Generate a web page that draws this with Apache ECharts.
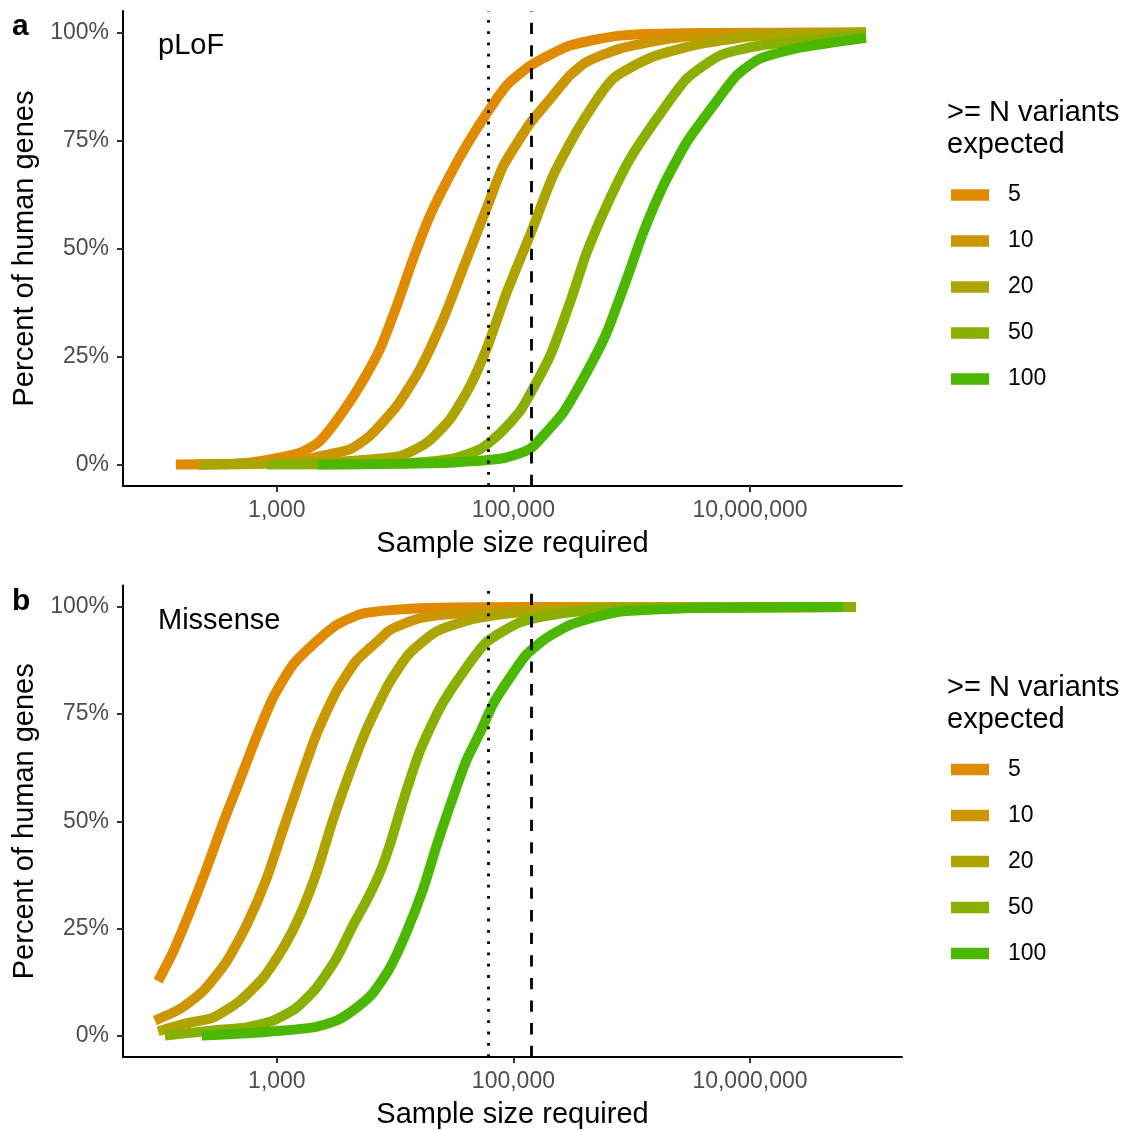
<!DOCTYPE html>
<html>
<head>
<meta charset="utf-8">
<script src="https://cdn.jsdelivr.net/npm/echarts@6/dist/echarts.min.js"></script>
<style>
  html, body { margin: 0; padding: 0; background: #fff; }
  #chart { width: 1124px; height: 1130px; }
</style>
</head>
<body>
<div id="chart"></div>
<script>
// categories / colours
const levels = ['5', '10', '20', '50', '100'];
const levelColors = ['#E08A00', '#CC9600', '#ADA400', '#89AF00', '#4BB700'];

// tick labels
const xTicks = [1000, 100000, 10000000];
const yTicks = [0, 25, 50, 75, 100];

// reference sample sizes (vertical lines)
const exacSize = 60706;
const gnomadSize = 141456;

// panel a: pLoF  (sample size, percent of genes)
const plof5Size = [140, 592, 1570, 2310, 3410, 5030, 7430, 10300, 14200, 19700, 29000, 40200, 60500, 87700, 140000, 301000, 796000, 3780000, 95700000];
const plof5Pct = [0, 0.4, 2.7, 5.4, 11.2, 18.2, 26.7, 36.7, 47.6, 57.6, 66.9, 73.9, 81.6, 87.8, 92.4, 97, 99.3, 99.9, 100];
const plof10Size = [215, 592, 1570, 2310, 4140, 6110, 10300, 16200, 25500, 40200, 60500, 82000, 140000, 204000, 301000, 416000, 796000, 2100000, 5570000, 95700000];
const plof10Pct = [0, 0.1, 0.8, 1.9, 3.5, 6.6, 13.5, 22, 33.6, 47.5, 59.9, 69.1, 79.2, 84.6, 90.1, 93.2, 96.3, 98.6, 99.7, 100];
const plof20Size = [215, 1570, 4140, 10960, 18450, 29000, 42900, 60500, 87700, 140000, 216000, 365000, 694000, 1510000, 4010000, 12200000, 95700000];
const plof20Pct = [0, 0.3, 0.8, 1.9, 5.0, 10.4, 18.1, 27.4, 39.8, 53.5, 66.8, 78.4, 89.3, 94.4, 97.5, 99.3, 100];
const plof50Size = [823, 10960, 29000, 52100, 76900, 113500, 140600, 204000, 301000, 416000, 614000, 966000, 1625000, 2917000, 5570000, 12200000, 95700000];
const plof50Pct = [0, 0.2, 1.2, 3.5, 7.2, 12.3, 16.6, 25.1, 37.5, 49, 59.9, 70.7, 80, 89.3, 94.7, 97, 99.6];
const plof100Size = [2220, 29000, 76900, 113500, 140000, 167500, 263700, 416000, 614000, 906000, 1253000, 1849000, 2917000, 4898000, 7727000, 12200000, 26500000, 95700000];
const plof100Pct = [0, 0.4, 1.3, 2.6, 3.7, 5.8, 12, 21.3, 30.5, 42.9, 53.7, 64.5, 74.6, 83.1, 90.1, 94, 96.5, 98.8];

// panel b: Missense
const mis5Size = [99, 133, 184, 254, 352, 486, 673, 931, 1374, 2168, 3199, 5370, 16200, 138000, 70100000];
const mis5Pct = [12.7, 19.6, 28.9, 38.9, 49.7, 59.6, 69.7, 78.9, 86.6, 92, 95.8, 98.5, 99.7, 100, 100];
const mis10Size = [93, 151, 238, 376, 555, 818, 1130, 1570, 2170, 3200, 4720, 7430, 9030, 16200, 42900, 247000, 70100000];
const mis10Pct = [3.5, 6.2, 10.4, 17.3, 25.8, 36.6, 48.1, 59.6, 70.4, 80.4, 87.5, 92.5, 94.6, 97.4, 98.7, 99.6, 100];
const mis20Size = [99, 161, 289, 486, 766, 1130, 1570, 2170, 2990, 4140, 5740, 7430, 9030, 13300, 22400, 42900, 93400, 301000, 796000, 70100000];
const mis20Pct = [1, 2.7, 4.2, 8.1, 13.5, 20.4, 28.1, 38.1, 50.4, 61.5, 71.5, 78, 82.5, 89.2, 94.3, 97, 98.5, 99.3, 99.8, 100];
const mis50Size = [113, 289, 555, 931, 1468, 2170, 3200, 4420, 5740, 7430, 9030, 11700, 16200, 23900, 37600, 59300, 113500, 232000, 574000, 78800000];
const mis50Pct = [0, 1.2, 1.9, 3.5, 6.5, 11.2, 18.1, 25.8, 31.5, 38, 44.5, 54.8, 66.4, 76.4, 84.8, 91.8, 96.4, 98.3, 99.5, 100];
const mis100Size = [231, 766, 2030, 3200, 4720, 6520, 9030, 12500, 17300, 22400, 29000, 40200, 52100, 67500, 93400, 129000, 191000, 301000, 506000, 796000, 3780000, 61100000];
const mis100Pct = [0, 0.8, 1.9, 3.5, 6.5, 10, 15.8, 24.2, 34.3, 44.3, 53.5, 64.3, 70.6, 77.4, 83.5, 88.9, 92.8, 95.8, 97.7, 98.9, 99.8, 100];

const panels = [
  { label: 'a', title: 'pLoF', sizes: [plof5Size, plof10Size, plof20Size, plof50Size, plof100Size], pcts: [plof5Pct, plof10Pct, plof20Pct, plof50Pct, plof100Pct] },
  { label: 'b', title: 'Missense', sizes: [mis5Size, mis10Size, mis20Size, mis50Size, mis100Size], pcts: [mis5Pct, mis10Pct, mis20Pct, mis50Pct, mis100Pct] },
];

const FONT = '"Liberation Sans", Arial, sans-serif';
const panelOffset = 574.5;
const zip = (xs, ys) => xs.map((x, i) => [x, ys[i]]);

const chart = echarts.init(document.getElementById('chart'), null, { renderer: 'canvas' });

const grids = [], xAxes = [], yAxes = [], legends = [], series = [], graphics = [];

panels.forEach((p, i) => {
  const dy = i * panelOffset;
  grids.push({ left: 123, top: 11 + dy, width: 779, height: 475, containLabel: false });

  xAxes.push({
    type: 'log', logBase: 10, gridIndex: i, min: 50, max: 1.93e8,
    name: 'Sample size required', nameLocation: 'middle', nameGap: 43,
    nameTextStyle: { fontSize: 29, color: '#000', fontFamily: FONT },
    axisLine: { onZero: false, lineStyle: { color: '#000', width: 2 } },
    axisTick: { customValues: xTicks, length: 6, lineStyle: { color: '#333', width: 2 } },
    axisLabel: {
      customValues: xTicks, fontSize: 23, color: '#4D4D4D', margin: 13, fontFamily: FONT,
      formatter: v => Math.round(v).toLocaleString('en-US')
    },
    splitLine: { show: false }, minorTick: { show: false }
  });

  yAxes.push({
    type: 'value', gridIndex: i, min: -5, max: 105,
    name: 'Percent of human genes', nameLocation: 'middle', nameGap: 67,
    nameTextStyle: { fontSize: 29, color: '#000', fontFamily: FONT },
    axisLine: { onZero: false, lineStyle: { color: '#000', width: 2 } },
    axisTick: { customValues: yTicks, length: 6, lineStyle: { color: '#333', width: 2 } },
    axisLabel: { customValues: yTicks, fontSize: 23, color: '#4D4D4D', margin: 14, fontFamily: FONT, formatter: '{value}%' },
    splitLine: { show: false }
  });

  legends.push({
    orient: 'vertical', left: 946, top: 178 + dy, data: levels,
    icon: 'rect', itemWidth: 38, itemHeight: 11.5, itemGap: 22,
    selectedMode: false,
    itemStyle: { borderWidth: 0 },
    textStyle: { fontSize: 23, lineHeight: 24, color: '#000', fontFamily: FONT, padding: [0, 0, 0, 14] }
  });

  levels.forEach((lv, j) => {
    series.push({
      type: 'line', name: lv, xAxisIndex: i, yAxisIndex: i,
      data: zip(p.sizes[j], p.pcts[j]),
      color: levelColors[j],
      showSymbol: false, symbol: 'none',
      smooth: 0.2,
      lineStyle: { width: 10, cap: 'butt', join: 'round' },
      emphasis: { disabled: true },
      animation: false
    });
  });

  series.push({
    type: 'line', name: 'ref', xAxisIndex: i, yAxisIndex: i, data: [], z: 5,
    markLine: {
      symbol: 'none', silent: true, animation: false, label: { show: false },
      data: [
        { xAxis: exacSize, lineStyle: { color: '#000', width: 2.8, type: [2.8, 8.5] } },
        { xAxis: gnomadSize, lineStyle: { color: '#000', width: 2.8, type: [11.3, 11.3] } }
      ]
    }
  });

  graphics.push(
    { type: 'text', left: 12, top: 27 + dy - 15, style: { text: p.label, font: 'bold 30px ' + FONT, fill: '#000' } },
    { type: 'text', x: 158, y: 46 + dy, style: { text: p.title, font: '29px ' + FONT, fill: '#000', verticalAlign: 'middle' } },
    { type: 'text', x: 947, y: 97 + dy, style: { text: '>= N variants\nexpected', font: '29px ' + FONT, lineHeight: 32, fill: '#000', verticalAlign: 'top' } }
  );
});

chart.setOption({
  animation: false,
  backgroundColor: '#fff',
  textStyle: { fontFamily: FONT },
  grid: grids,
  xAxis: xAxes,
  yAxis: yAxes,
  legend: legends,
  series: series,
  graphic: graphics
});
</script>
</body>
</html>
